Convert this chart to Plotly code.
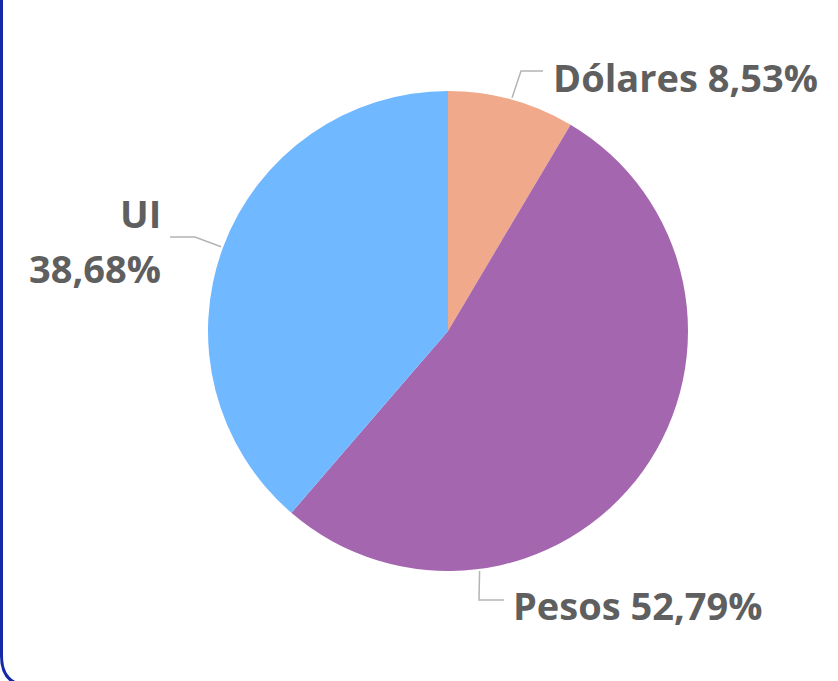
import math
import plotly.graph_objects as go

# datos
labels = ["Dólares", "Pesos", "UI"]
values = [8.53, 52.79, 38.68]
colors = ["#F0A98A", "#A566B0", "#70B8FF"]
texts = [["Dólares 8,53%"], ["Pesos 52,79%"], ["UI", "38,68%"]]

W, H = 838, 681
CX, CY, R = 448, 331, 240  # centro y radio del pie en px


def px(x, y):
    """px (origen arriba-izq) -> coords paper."""
    return x / W, 1 - y / H


# ángulo (grados, horario desde arriba) donde arranca cada guía
mids = []
acc = 0
for v in values:
    mids.append((acc + v / 2) / sum(values) * 360)
    acc += v
guide_angle = [mids[0], 172.5, mids[2]]
# codo y fin de la guía, posición y anclaje del texto
guides = [
    dict(elbow=(521, 71), end=(543, 71), text=[(551, 77)], anchor="left"),
    dict(elbow=(479, 600), end=(504, 600), text=[(511, 605)], anchor="left"),
    dict(elbow=(195, 237), end=(170, 237), text=[(163, 213), (163, 268)], anchor="right"),
]

fig = go.Figure(go.Pie(
    labels=labels, values=values, sort=False, direction="clockwise", rotation=0,
    marker=dict(colors=colors, line=dict(width=0)),
    textinfo="none", hoverinfo="label+percent", showlegend=False,
    domain=dict(x=[(CX - R) / W, (CX + R) / W], y=[1 - (CY + R) / H, 1 - (CY - R) / H]),
))

shapes = []
annotations = []
for ang, g, tl in zip(guide_angle, guides, texts):
    a = math.radians(ang)
    sx, sy = CX + (R + 2) * math.sin(a), CY - (R + 2) * math.cos(a)
    pts = [px(sx, sy), px(*g["elbow"]), px(*g["end"])]
    path = "M " + " L ".join(f"{x},{y}" for x, y in pts)
    shapes.append(dict(type="path", xref="paper", yref="paper", path=path,
                       line=dict(color="#B4B4B4", width=1.5)))
    for t, pos in zip(tl, g["text"]):
        tx, ty = px(*pos)
        annotations.append(dict(x=tx, y=ty, xref="paper", yref="paper", text=f"<b>{t}</b>",
                                showarrow=False, xanchor=g["anchor"], yanchor="middle",
                                font=dict(size=38, color="#5F5F5F", family="Open Sans")))

# borde de la tarjeta (izq + abajo, esquina redondeada)
bx, by, rc = 1.5, 686, 30
pb = [px(bx, -10), px(bx, by - rc), px(bx, by), px(bx + rc, by), px(W + 10, by)]
shapes.append(dict(type="path", xref="paper", yref="paper",
                   path=f"M {pb[0][0]},{pb[0][1]} L {pb[1][0]},{pb[1][1]} "
                        f"Q {pb[2][0]},{pb[2][1]} {pb[3][0]},{pb[3][1]} L {pb[4][0]},{pb[4][1]}",
                   line=dict(color="#1428A8", width=3)))

fig.update_layout(
    width=W, height=H,
    margin=dict(l=0, r=0, t=0, b=0),
    paper_bgcolor="white", plot_bgcolor="white",
    shapes=shapes, annotations=annotations,
)
fig.write_html("out.html", config={"displayModeBar": False},
               post_script="document.body.style.margin='0px';")
